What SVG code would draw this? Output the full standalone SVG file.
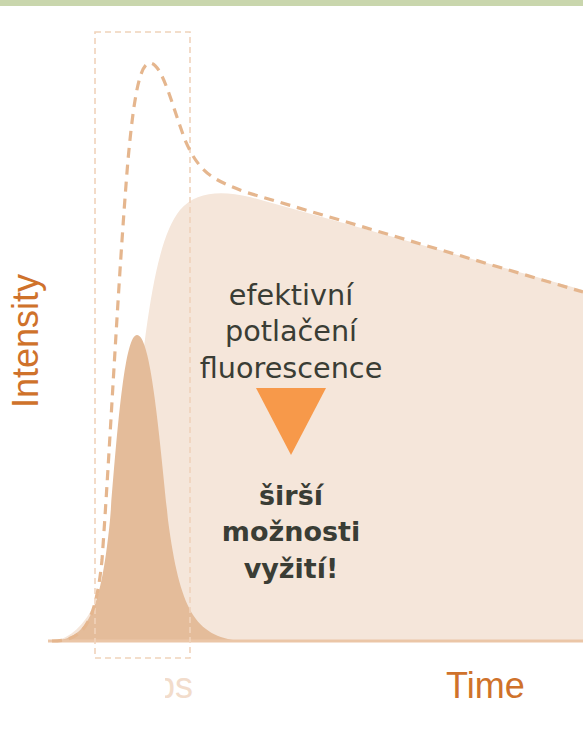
<svg xmlns="http://www.w3.org/2000/svg" width="583" height="739" viewBox="0 0 583 739">
<style>
.axis{font-family:"Liberation Sans",Arial,sans-serif;font-size:36px;fill:#cf722b}
.mid{font-family:"DejaVu Sans","Noto Sans",sans-serif;font-size:28.7px;fill:#3a3d35;text-anchor:middle}
.bold{font-weight:bold;font-size:27px}
</style>
<defs>
<clipPath id="psclip"><rect x="165" y="665" width="40" height="34"/></clipPath>
</defs>
<rect x="0" y="0" width="583" height="6" fill="#c9d6ad"/>
<g id="broad">
<path d="M50,641 C95,640 120,560 135,430 C145,330 155,240 180,210 C195,192 220,190 250,197 L583,290 L583,641 Z" fill="#f5e6da"/>
</g>
<g id="narrow">
<path d="M48,641 C85,641 100,620 110,520 C118,420 125,335 137,335 C150,335 158,420 168,520 C180,610 195,636 240,641 Z" fill="#e4bc9a"/>
</g>
<g id="baseline">
<line x1="48" y1="641" x2="583" y2="641" stroke="#ebc6a7" stroke-width="3"/>
</g>
<g id="window">
<rect x="95" y="32" width="95" height="626" fill="none" stroke="#f0d3bb" stroke-width="1.6" stroke-dasharray="6,4"/>
</g>
<g id="connectors">
<path d="M52,641 C80,641 95,630 102,560 C110,450 118,280 128,160 C134,95 140,63 150,63 C162,63 172,105 185,140 C200,175 215,180 245,192 L583,292" fill="none" stroke="#e5b68e" stroke-width="3.2" stroke-dasharray="10,7"/>
</g>
<g id="labels">
<text class="axis" transform="translate(38,341) rotate(-90)" text-anchor="middle">Intensity</text>
<text class="axis" x="446" y="698">Time</text>
<text class="axis" x="155" y="698" style="fill:#f2dccb" clip-path="url(#psclip)">ps</text>
</g>
<g id="message">
<text class="mid" x="291" y="305">efektivní</text>
<text class="mid" x="291" y="341">potlačení</text>
<text class="mid" x="291" y="378">fluorescence</text>
<polygon points="256,388 326,388 291,455" fill="#f7994a"/>
<text class="mid bold" x="291" y="505">širší</text>
<text class="mid bold" x="291" y="541">možnosti</text>
<text class="mid bold" x="291" y="578">vyžití!</text>
</g>
</svg>
